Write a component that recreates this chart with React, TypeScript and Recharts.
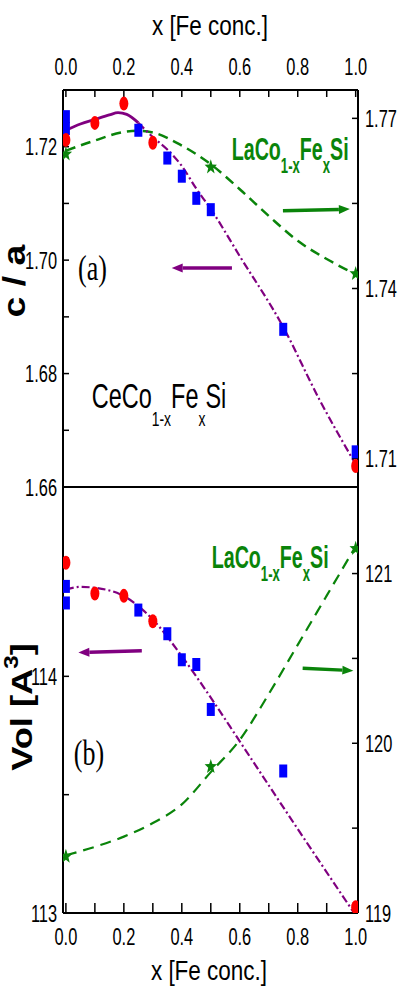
import React from 'react';
import { ComposedChart, Line, Scatter, XAxis, YAxis, ReferenceLine } from 'recharts';

// ---- values ----
const xTicks = [0, 0.1, 0.2, 0.3, 0.4, 0.5, 0.6, 0.7, 0.8, 0.9, 1.0];
const xTickLabels = [0, 0.2, 0.4, 0.6, 0.8, 1.0];

// panel (a): c/a
const caLeftTicks = [1.66, 1.67, 1.68, 1.69, 1.7, 1.71, 1.72];
const caLeftLabels = [1.66, 1.68, 1.7, 1.72];
const caRightTicks = [1.71, 1.725, 1.74, 1.755, 1.77];
const caRightLabels = [1.71, 1.74, 1.77];

const caCeRed = [
  { x: 0, y: 1.7212 }, { x: 0.1, y: 1.7242 }, { x: 0.2, y: 1.7276 }, { x: 0.3, y: 1.7207 }, { x: 1.0, y: 1.6637 },
];
const caCeBlue = [
  { x: 0, y: 1.7253 }, { x: 0, y: 1.7232 }, { x: 0.25, y: 1.7229 }, { x: 0.35, y: 1.718 }, { x: 0.4, y: 1.7148 },
  { x: 0.45, y: 1.7109 }, { x: 0.5, y: 1.7089 }, { x: 0.75, y: 1.6878 }, { x: 1.0, y: 1.6662 },
];
const caCeFitSolid = [
  { x: 0, y: 1.7229 }, { x: 0.05, y: 1.724 }, { x: 0.1, y: 1.7248 }, { x: 0.15, y: 1.7256 },
  { x: 0.18, y: 1.726 }, { x: 0.21, y: 1.7257 }, { x: 0.25, y: 1.7242 },
];
const caCeFitDashDot = [
  { x: 0.25, y: 1.7242 }, { x: 0.3, y: 1.7217 }, { x: 0.35, y: 1.7195 }, { x: 0.4, y: 1.7166 }, { x: 0.45, y: 1.7126 },
  { x: 0.5, y: 1.709 }, { x: 0.6, y: 1.7007 }, { x: 0.75, y: 1.6882 }, { x: 0.875, y: 1.6754 }, { x: 1.0, y: 1.664 },
];
const caLaStars = [{ x: 0, y: 1.7637 }, { x: 0.5, y: 1.7614 }, { x: 1.0, y: 1.7426 }];
const caLaFit = [
  { x: 0, y: 1.7643 }, { x: 0.1, y: 1.7661 }, { x: 0.2, y: 1.7676 }, { x: 0.25, y: 1.7678 }, { x: 0.3, y: 1.7675 },
  { x: 0.4, y: 1.7652 }, { x: 0.5, y: 1.7619 }, { x: 0.6, y: 1.7575 }, { x: 0.7, y: 1.7528 }, { x: 0.8, y: 1.7484 },
  { x: 0.9, y: 1.7452 }, { x: 1.0, y: 1.7425 },
];
const caArrowCe = [{ x: 0.573, y: 1.6986 }, { x: 0.365, y: 1.6986 }];
const caArrowLa = [{ x: 0.749, y: 1.7537 }, { x: 0.98, y: 1.754 }];

// panel (b): volume
const volLeftTicks = [113, 113.5, 114, 114.5];
const volLeftLabels = [113, 114];
const volRightTicks = [119, 119.5, 120, 120.5, 121];
const volRightLabels = [119, 120, 121];

const volCeRed = [
  { x: 0, y: 114.48 }, { x: 0.1, y: 114.35 }, { x: 0.2, y: 114.34 }, { x: 0.3, y: 114.233 }, { x: 1.0, y: 113.024 },
];
const volCeBlue = [
  { x: 0, y: 114.38 }, { x: 0, y: 114.31 }, { x: 0.25, y: 114.28 }, { x: 0.35, y: 114.18 }, { x: 0.4, y: 114.07 },
  { x: 0.45, y: 114.05 }, { x: 0.5, y: 113.86 }, { x: 0.75, y: 113.6 },
];
const volCeFit = [
  { x: 0, y: 114.367 }, { x: 0.05, y: 114.378 }, { x: 0.1, y: 114.374 }, { x: 0.2, y: 114.339 }, { x: 0.3, y: 114.24 },
  { x: 0.4, y: 114.085 }, { x: 0.5, y: 113.91 }, { x: 0.6, y: 113.725 }, { x: 0.8, y: 113.355 }, { x: 1.0, y: 112.99 },
];
const volLaStars = [{ x: 0, y: 119.333 }, { x: 0.5, y: 119.862 }, { x: 1.0, y: 121.147 }];
const volLaFit = [
  { x: 0, y: 119.34 }, { x: 0.1, y: 119.39 }, { x: 0.2, y: 119.45 }, { x: 0.3, y: 119.53 }, { x: 0.4, y: 119.64 },
  { x: 0.5, y: 119.83 }, { x: 0.6, y: 120.02 }, { x: 0.7, y: 120.29 }, { x: 0.8, y: 120.58 }, { x: 0.9, y: 120.87 },
  { x: 1.0, y: 121.16 },
];
const volArrowCe = [{ x: 0.262, y: 114.108 }, { x: 0.043, y: 114.101 }];
const volArrowLa = [{ x: 0.817, y: 120.442 }, { x: 0.992, y: 120.428 }];

// ---- styling ----
const X_DOMAIN: [number, number] = [-0.01, 1.008];
const SANS = "'Liberation Sans', Arial, Helvetica, sans-serif";
const SERIF = "'Liberation Serif', 'Times New Roman', serif";
const PURPLE = '#800080';
const GREEN = '#0a840a';
const RED = '#ff0000';
const BLUE = '#0000ff';
const axisLine = { stroke: '#000', strokeWidth: 2 };
const tickLine = { stroke: '#000', strokeWidth: 1.5 };

// tick labels in the figure are condensed and stretched tall
function StretchTick(props: any) {
  const { x, y, payload, textAnchor, shown, digits, middle } = props;
  if (!shown.includes(payload.value)) return <g />;
  return (
    <g transform={`translate(${x},${y}) scale(0.82,1.22)`}>
      <text x={0} y={0} dy={middle ? '0.36em' : 0} textAnchor={textAnchor} fontFamily={SANS} fontSize={20} fill="#000">
        {Number(payload.value).toFixed(digits)}
      </text>
    </g>
  );
}

const Square = (p: any) => <rect x={p.cx - 4} y={p.cy - 6.5} width={8} height={13} fill={BLUE} />;
const Dot = (p: any) => <ellipse cx={p.cx} cy={p.cy} rx={4.5} ry={7} fill={RED} />;
const Star = (p: any) => {
  const pts: string[] = [];
  for (let i = 0; i < 10; i++) {
    const r = i % 2 === 0 ? 6.5 : 2.7;
    const a = -Math.PI / 2 + (i * Math.PI) / 5;
    pts.push(`${p.cx + r * Math.cos(a)},${p.cy + 1.2 * r * Math.sin(a)}`);
  }
  return <polygon points={pts.join(' ')} fill={GREEN} />;
};

function arrowShape(color: string) {
  return (p: any) => {
    const { x1, y1, x2, y2 } = p;
    const ang = Math.atan2(y2 - y1, x2 - x1);
    const L = 11;
    const W = 4.5;
    const bx = x2 - L * Math.cos(ang);
    const by = y2 - L * Math.sin(ang);
    const px = -Math.sin(ang) * W;
    const py = Math.cos(ang) * W;
    return (
      <g>
        <line x1={x1} y1={y1} x2={bx} y2={by} stroke={color} strokeWidth={3.5} />
        <polygon points={`${x2},${y2} ${bx + px},${by + py} ${bx - px},${by - py}`} fill={color} />
      </g>
    );
  };
}

// formula like LaCo1-xFexSi with lowered subscripts
function Formula({ head, d }: { head: string; d: number }) {
  return (
    <>
      <tspan>{head}</tspan>
      <tspan dy={d} fontSize={16}>1-x</tspan>
      <tspan dy={-d}>Fe</tspan>
      <tspan dy={d} fontSize={16}>x</tspan>
      <tspan dy={-d}>Si</tspan>
    </>
  );
}

export default function App() {
  return (
    <div style={{ position: 'absolute', left: 0, top: 0, width: 405, height: 997, background: '#fff' }}>
      {/* panel (a) */}
      <div style={{ position: 'absolute', left: 0, top: 0 }}>
        <ComposedChart width={405} height={510} margin={{ top: 50, right: 7, bottom: 13, left: 23 }}>
          <XAxis
            xAxisId="t" orientation="top" dataKey="x" type="number" domain={X_DOMAIN} allowDataOverflow
            ticks={xTicks} interval={0} height={40} tickSize={-7} tickMargin={22}
            axisLine={axisLine} tickLine={tickLine}
            tick={(p: any) => <StretchTick {...p} shown={xTickLabels} digits={1} />}
          />
          <XAxis
            xAxisId="b" orientation="bottom" dataKey="x" type="number" domain={X_DOMAIN} allowDataOverflow
            ticks={xTicks} interval={0} height={10} tickSize={-10} tick={false}
            axisLine={axisLine} tickLine={tickLine}
          />
          <YAxis
            yAxisId="l" orientation="left" dataKey="y" type="number" domain={[1.66, 1.73]} allowDataOverflow
            ticks={caLeftTicks} interval={0} width={40} tickSize={-6} tickMargin={12}
            axisLine={axisLine} tickLine={tickLine}
            tick={(p: any) => <StretchTick {...p} shown={caLeftLabels} digits={2} middle />}
          />
          <YAxis
            yAxisId="r" orientation="right" dataKey="y" type="number" domain={[1.705, 1.775]} allowDataOverflow
            ticks={caRightTicks} interval={0} width={40} tickSize={-6} tickMargin={13}
            axisLine={axisLine} tickLine={tickLine}
            tick={(p: any) => <StretchTick {...p} shown={caRightLabels} digits={2} middle />}
          />
          <Line xAxisId="t" yAxisId="r" data={caLaFit} dataKey="y" type="monotone" stroke={GREEN} strokeWidth={2.5}
            strokeDasharray="10 6" dot={false} isAnimationActive={false} />
          <Line xAxisId="t" yAxisId="l" data={caCeFitSolid} dataKey="y" type="monotone" stroke={PURPLE} strokeWidth={2.8}
            dot={false} isAnimationActive={false} />
          <Line xAxisId="t" yAxisId="l" data={caCeFitDashDot} dataKey="y" type="monotone" stroke={PURPLE} strokeWidth={2.2}
            strokeDasharray="8 3 2 3" dot={false} isAnimationActive={false} />
          <ReferenceLine xAxisId="t" yAxisId="l" segment={caArrowCe} shape={arrowShape(PURPLE)} ifOverflow="visible" />
          <ReferenceLine xAxisId="t" yAxisId="r" segment={caArrowLa} shape={arrowShape(GREEN)} ifOverflow="visible" />
          <Scatter xAxisId="t" yAxisId="l" data={caCeBlue} dataKey="y" shape={Square} isAnimationActive={false} />
          <Scatter xAxisId="t" yAxisId="l" data={caCeRed} dataKey="y" shape={Dot} isAnimationActive={false} />
          <Scatter xAxisId="t" yAxisId="r" data={caLaStars} dataKey="y" shape={Star} isAnimationActive={false} />
        </ComposedChart>
      </div>

      {/* panel (b) */}
      <div style={{ position: 'absolute', left: 0, top: 477 }}>
        <ComposedChart width={405} height={520} margin={{ top: 0, right: 7, bottom: 34, left: 23 }}>
          <XAxis
            xAxisId="t" orientation="top" dataKey="x" type="number" domain={X_DOMAIN} allowDataOverflow
            ticks={xTicks} interval={0} height={10} tickSize={-10} tick={false}
            axisLine={axisLine} tickLine={tickLine}
          />
          <XAxis
            xAxisId="b" orientation="bottom" dataKey="x" type="number" domain={X_DOMAIN} allowDataOverflow
            ticks={xTicks} interval={0} height={50} tickSize={-10} tickMargin={42}
            axisLine={axisLine} tickLine={tickLine}
            tick={(p: any) => <StretchTick {...p} shown={xTickLabels} digits={1} />}
          />
          <YAxis
            yAxisId="l" orientation="left" dataKey="y" type="number" domain={[113, 114.8]} allowDataOverflow
            ticks={volLeftTicks} interval={0} width={40} tickSize={-6} tickMargin={12}
            axisLine={axisLine} tickLine={tickLine}
            tick={(p: any) => <StretchTick {...p} shown={volLeftLabels} digits={0} middle />}
          />
          <YAxis
            yAxisId="r" orientation="right" dataKey="y" type="number" domain={[119, 121.51]} allowDataOverflow
            ticks={volRightTicks} interval={0} width={40} tickSize={-6} tickMargin={13}
            axisLine={axisLine} tickLine={tickLine}
            tick={(p: any) => <StretchTick {...p} shown={volRightLabels} digits={0} middle />}
          />
          <Line xAxisId="b" yAxisId="r" data={volLaFit} dataKey="y" type="monotone" stroke={GREEN} strokeWidth={2.2}
            strokeDasharray="11 7" dot={false} isAnimationActive={false} />
          <Line xAxisId="b" yAxisId="l" data={volCeFit} dataKey="y" type="monotone" stroke={PURPLE} strokeWidth={2.2}
            strokeDasharray="8 3 2 3" dot={false} isAnimationActive={false} />
          <ReferenceLine xAxisId="b" yAxisId="l" segment={volArrowCe} shape={arrowShape(PURPLE)} ifOverflow="visible" />
          <ReferenceLine xAxisId="b" yAxisId="r" segment={volArrowLa} shape={arrowShape(GREEN)} ifOverflow="visible" />
          <Scatter xAxisId="b" yAxisId="l" data={volCeBlue} dataKey="y" shape={Square} isAnimationActive={false} />
          <Scatter xAxisId="b" yAxisId="l" data={volCeRed} dataKey="y" shape={Dot} isAnimationActive={false} />
          <Scatter xAxisId="b" yAxisId="r" data={volLaStars} dataKey="y" shape={Star} isAnimationActive={false} />
        </ComposedChart>
      </div>

      {/* titles and notes */}
      <svg width={405} height={997} style={{ position: 'absolute', left: 0, top: 0, pointerEvents: 'none' }}>
        <text transform="translate(210,35) scale(1,1.25)" textAnchor="middle" fontFamily={SANS} fontSize={22.5} fill="#000">
          x [Fe conc.]
        </text>
        <text transform="translate(209,980) scale(1,1.25)" textAnchor="middle" fontFamily={SANS} fontSize={22.5} fill="#000">
          x [Fe conc.]
        </text>

        <text transform="translate(25,281) rotate(-90) scale(1.17,1)" textAnchor="middle" fontFamily={SANS}
          fontWeight="bold" fontSize={32} fill="#000">c / a</text>
        <text transform="translate(31.5,707) rotate(-90) scale(1.21,1)" textAnchor="middle" fontFamily={SANS}
          fontWeight="bold" fontSize={30} fill="#000">
          <tspan>Vol [A</tspan><tspan dy={-14} fontSize={20}>3</tspan><tspan dy={14}>]</tspan>
        </text>

        <text transform="translate(92.5,280) scale(1,1.35)" textAnchor="middle" fontFamily={SERIF} fontSize={26} fill="#000">(a)</text>
        <text transform="translate(89,765) scale(1,1.35)" textAnchor="middle" fontFamily={SERIF} fontSize={26} fill="#000">(b)</text>

        <text transform="translate(91.7,408.3) scale(0.87,1.3)" fontFamily={SANS} fontSize={27} fill="#000">
          <Formula head="CeCo" d={13.6} />
        </text>
        <text transform="translate(231.7,160) scale(0.82,1.33)" fontFamily={SANS} fontWeight="bold" fontSize={24} fill={GREEN}>
          <Formula head="LaCo" d={9.8} />
        </text>
        <text transform="translate(211.7,568.3) scale(0.82,1.33)" fontFamily={SANS} fontWeight="bold" fontSize={24} fill={GREEN}>
          <Formula head="LaCo" d={9.8} />
        </text>
      </svg>
    </div>
  );
}
